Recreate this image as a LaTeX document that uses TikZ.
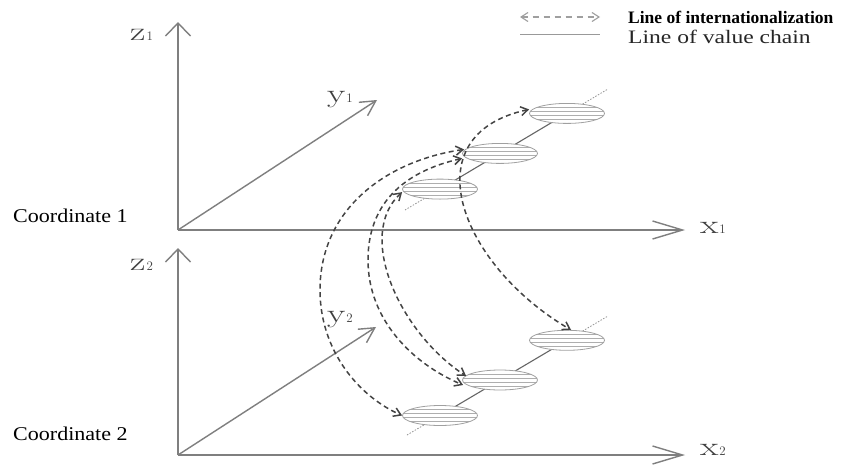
\documentclass[tikz,border=0pt]{standalone}
\usepackage{fontspec}
\newfontfamily\tms{Liberation Serif}
\usetikzlibrary{arrows.meta,shapes.geometric}
\definecolor{axgray}{HTML}{7F7F7F}
\definecolor{dashgray}{HTML}{444444}
\definecolor{vcgray}{HTML}{666666}
\definecolor{ellgray}{HTML}{A0A0A0}
\definecolor{labgray}{HTML}{404040}
\newcommand{\axl}[2]{\scalebox{1.45}[1]{\fontsize{26}{26}\selectfont #1}\kern1pt{\fontsize{13}{13}\selectfont #2}}
\begin{document}
\begin{tikzpicture}[x=1pt,y=-1pt,
  axis/.style={draw=axgray, line width=1.4pt},
  xarr/.style={-{Straight Barb[length=30pt,width=18pt]}},
  zarr/.style={-{Straight Barb[length=13pt,width=25pt]}},
  yarr/.style={-{Straight Barb[length=15pt,width=16pt]}},
  intl/.style={draw=dashgray, line width=1.5pt, dash pattern=on 5pt off 3.5pt,
     {Straight Barb[length=7pt,width=9pt]}-{Straight Barb[length=7pt,width=9pt]}},
  vcline/.style={draw=vcgray, line width=1.1pt},
  vcdot/.style={draw=vcgray!70, line width=0.8pt, dash pattern=on 1.5pt off 1.5pt},
  vcell/.style={ellipse, draw=ellgray, line width=0.8pt, fill=white,
     minimum width=75pt, minimum height=20pt, inner sep=0pt,
     path picture={\foreach \dy in {-6,-2,2,6}
       \draw[ellgray!85, line width=0.6pt] ([yshift=\dy pt]path picture bounding box.west) -- ([yshift=\dy pt]path picture bounding box.east);}},
  lab/.style={inner sep=0pt, anchor=base west, text=labgray},
]
\path[fill=white] (0,0) rectangle (844,464);
\useasboundingbox (0,0) rectangle (844,464);

% ---- axes, coordinate 1
\coordinate (o1) at (178,230);
\coordinate (z1e) at (178,22);
\coordinate (x1e) at (685,230);
\coordinate (y1e) at (377,100);
\draw[axis,zarr] (o1) -- (z1e);
\draw[axis,xarr] (o1) -- (x1e);
\draw[axis,yarr] (o1) -- (y1e);
% ---- axes, coordinate 2
\coordinate (o2) at (178,455);
\coordinate (z2e) at (178,248);
\coordinate (x2e) at (685,455);
\coordinate (y2e) at (376,327);
\draw[axis,zarr] (o2) -- (z2e);
\draw[axis,xarr] (o2) -- (x2e);
\draw[axis,yarr] (o2) -- (y2e);

% axis labels
\node[lab] (lz1) at (130,40) {\axl{z}{1}};
\node[lab] (lx1) at (700,233) {\axl{x}{1}};
\node[lab] (ly1) at (327,102) {\axl{y}{1}};
\node[lab] (lz2) at (130,270) {\axl{z}{2}};
\node[lab] (lx2) at (700,455) {\axl{x}{2}};
\node[lab] (ly2) at (327,322) {\axl{y}{2}};

% coordinate labels
\node[lab, text=black] (c1) at (13,222) {\scalebox{1.13}[1]{\tms\fontsize{19.5}{19.5}\selectfont Coordinate 1}};
\node[lab, text=black] (c2) at (13,440) {\scalebox{1.13}[1]{\tms\fontsize{19.5}{19.5}\selectfont Coordinate 2}};

% ---- value chain, top
\coordinate (t0) at (405,210);
\coordinate (t9) at (608,89);
\coordinate (p1) at (440,189.1);
\coordinate (p2) at (500,153.4);
\coordinate (p3) at (567,113.4);
\draw[vcdot] (t0) -- (p1);
\draw[vcline] (p1) -- (p3);
\draw[vcdot] (p3) -- (t9);
\node[vcell] (e1) at (p1) {};
\node[vcell] (e2) at (p2) {};
\node[vcell] (e3) at (p3) {};

% ---- value chain, bottom
\coordinate (b0) at (407,435);
\coordinate (b9) at (608,316);
\coordinate (q1) at (440,415.5);
\coordinate (q2) at (500,380);
\coordinate (q3) at (567,340.3);
\draw[vcdot] (b0) -- (q1);
\draw[vcline] (q1) -- (q3);
\draw[vcdot] (q3) -- (b9);
\node[vcell] (e4) at (q1) {};
\node[vcell] (e5) at (q2) {};
\node[vcell] (e6) at (q3) {};

% ---- lines of internationalization
\draw[intl] ([xshift=2pt,yshift=4pt]e2.west) .. controls (385,161) and (320,210) .. (320,290)
   .. controls (320,350) and (358,396) .. (e4.west);
\draw[intl] ([yshift=-5pt]e2.west) .. controls (402,172) and (368,205) .. (368,260)
   .. controls (368,320) and (413,364) .. ([xshift=1pt,yshift=-5pt]e5.west);
\draw[intl] ([yshift=-3pt]e1.west) .. controls (355,235) and (400,333) .. ([xshift=4pt,yshift=4pt]e5.west);
\draw[intl] ([yshift=4pt]e3.west) .. controls (410,135) and (460,265) .. ([xshift=4pt]e6.north);

% ---- legend
\coordinate (la1) at (520,17);
\coordinate (la2) at (600,17);
\draw[intl, draw=gray!75, line width=1.1pt, dash pattern=on 6pt off 5pt] (la1) -- (la2);
\coordinate (lb1) at (520,34);
\coordinate (lb2) at (600,34);
\draw[draw=gray!80, line width=1pt] (lb1) -- (lb2);
\node[lab, text=black] (lt1) at (628,23) {\tms\bfseries\fontsize{17.5}{17.5}\selectfont Line of internationalization};
\node[lab, text=black!85] (lt2) at (628,43) {\scalebox{1.24}[1]{\tms\fontsize{19}{19}\selectfont Line of value chain}};
\end{tikzpicture}
\end{document}
